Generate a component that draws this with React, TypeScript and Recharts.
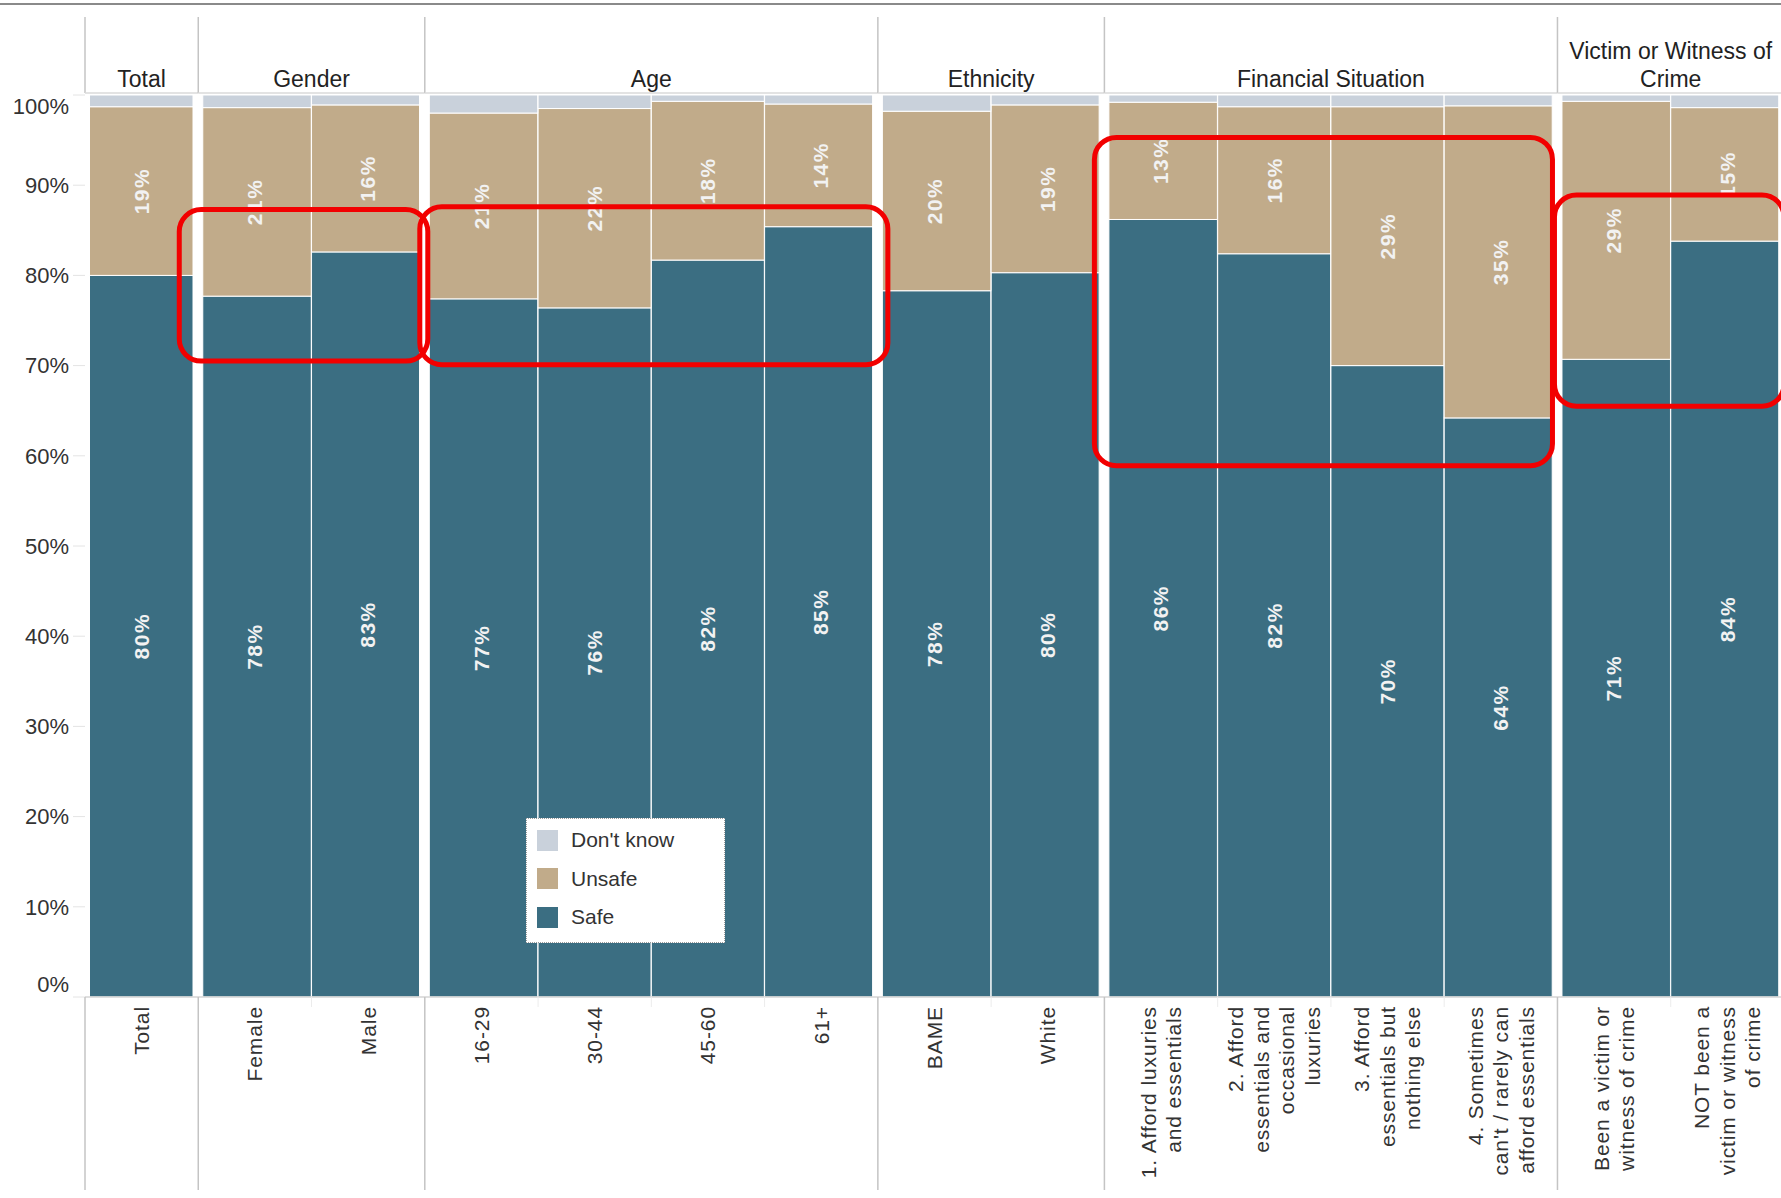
import React from "react";
import { Bar, BarChart, LabelList, Legend, ReferenceArea, XAxis, YAxis } from "recharts";

// categories along the bottom, with the group each one belongs to (header row)
const categories = [
  "Total",
  "Female",
  "Male",
  "16-29",
  "30-44",
  "45-60",
  "61+",
  "BAME",
  "White",
  "1. Afford luxuries\nand essentials",
  "2. Afford\nessentials and\noccasional\nluxuries",
  "3. Afford\nessentials but\nnothing else",
  "4. Sometimes\ncan't / rarely can\nafford essentials",
  "Been a victim or\nwitness of crime",
  "NOT been a\nvictim or witness\nof crime",
];
const categoryGroup = [
  "Total",
  "Gender",
  "Gender",
  "Age",
  "Age",
  "Age",
  "Age",
  "Ethnicity",
  "Ethnicity",
  "Financial Situation",
  "Financial Situation",
  "Financial Situation",
  "Financial Situation",
  "Victim or Witness of\nCrime",
  "Victim or Witness of\nCrime",
];

// shares in %
const safe = [80.0, 77.7, 82.6, 77.4, 76.4, 81.7, 85.4, 78.3, 80.3, 86.2, 82.4, 70.0, 64.2, 70.7, 83.8];
const unsafe = [18.7, 20.9, 16.3, 20.6, 22.1, 17.6, 13.6, 19.9, 18.6, 13.0, 16.3, 28.7, 34.6, 28.6, 14.8];
const dontKnow = [1.3, 1.4, 1.1, 2.0, 1.5, 0.7, 1.0, 1.8, 1.1, 0.8, 1.3, 1.3, 1.2, 0.7, 1.4];
const yTicks = [0, 10, 20, 30, 40, 50, 60, 70, 80, 90, 100];

const legendNames = ["Don't know", "Unsafe", "Safe"];

// red highlight boxes drawn over the chart
const highlightFrom = ["Female", "16-29", categories[9], categories[13]];
const highlightTo = ["Male", "61+", categories[12], categories[14]];
const highlightTop = [87.3, 87.6, 95.3, 88.9];
const highlightBottom = [70.5, 70.1, 58.9, 65.5];
const boxPad = [
  [19, 3],
  [5, 10],
  [10, -5],
  [3, 0],
];

const W = 1781;
const H = 1198;
const CHART_W = 1795;
const MARGIN = { top: 5, right: 11, left: 0, bottom: 11 };
const Y_W = 85;
const TOP_H = 90;
const BOTTOM_H = 190;
const PLOT_TOP = MARGIN.top + TOP_H;
const PLOT_BOTTOM = H - MARGIN.bottom - BOTTOM_H;
const BAND = (CHART_W - MARGIN.left - MARGIN.right - Y_W) / categories.length;

const SAFE = "#3b6e82";
const UNSAFE = "#c1ab8a";
const DK = "#c9d1db";
const legendColors = [DK, UNSAFE, SAFE];
const FONT = '"Liberation Sans", Arial, sans-serif';

const data = categories.map((name, i) => ({
  name,
  safe: safe[i],
  unsafe: unsafe[i],
  dontKnow: dontKnow[i],
}));

const isGroupStart = (i: number) => i === 0 || categoryGroup[i - 1] !== categoryGroup[i];
const isGroupEnd = (i: number) => i === categoryGroup.length - 1 || categoryGroup[i + 1] !== categoryGroup[i];
const groupSpan = (i: number) => {
  let n = 0;
  while (i + n < categoryGroup.length && categoryGroup[i + n] === categoryGroup[i]) n++;
  return n;
};

function SegmentShape(props: any) {
  const { x, y, width, height, fill, index } = props;
  if (!height || height <= 0) return null;
  const l = isGroupStart(index) ? 4.5 : 0;
  const r = isGroupEnd(index) ? 5 : 0;
  return <rect x={x + l} y={y} width={width - l - r} height={height} fill={fill} stroke="#fff" strokeWidth={1} />;
}

function SegmentLabel(props: any) {
  const vb = props.viewBox ?? props;
  const { x, y, width, height } = vb;
  if (props.value == null || x == null) return null;
  const cx = x + width / 2;
  const cy = y + height / 2;
  return (
    <text
      transform={`translate(${cx},${cy}) rotate(-90)`}
      textAnchor="middle"
      dy="0.35em"
      fill="#f2f2f2"
      fontSize={21}
      fontWeight="bold"
      fontFamily={FONT}
      letterSpacing={1.5}
    >
      {Math.round(props.value)}%
    </text>
  );
}

function YTick({ x, y, payload }: any) {
  const v = payload.value;
  const dy = v === 100 ? 11 : v === 0 ? -13 : 0;
  return (
    <text x={x} y={y + dy} dy="0.35em" textAnchor="end" fontSize={22} fill="#333" fontFamily={FONT}>
      {v}%
    </text>
  );
}

function HeaderTick({ x, index }: any) {
  if (!isGroupStart(index)) return <g />;
  const n = groupSpan(index);
  const left = x - BAND / 2;
  const right = left + n * BAND;
  const cx = (left + right) / 2;
  const lines = categoryGroup[index].split("\n");
  return (
    <g>
      <line x1={left} x2={left} y1={17} y2={PLOT_TOP - 2} stroke="#c4c4c4" strokeWidth={1.5} />
      {index + n === categoryGroup.length && (
        <line x1={right} x2={right} y1={17} y2={PLOT_TOP - 2} stroke="#c4c4c4" strokeWidth={1.5} />
      )}
      <line x1={left} x2={right} y1={PLOT_TOP - 2} y2={PLOT_TOP - 2} stroke="#dadada" strokeWidth={1.5} />
      {lines.map((t, k) => (
        <text
          key={k}
          x={cx}
          y={PLOT_TOP - 8 - (lines.length - 1 - k) * 28}
          textAnchor="middle"
          fontSize={23}
          fill="#222"
          fontFamily={FONT}
        >
          {t}
        </text>
      ))}
    </g>
  );
}

function CategoryTick({ x, index }: any) {
  const lines = categories[index].split("\n");
  const left = x - BAND / 2;
  return (
    <g>
      {isGroupStart(index) ? (
        <line x1={left} x2={left} y1={PLOT_BOTTOM} y2={1190} stroke="#c4c4c4" strokeWidth={1.5} />
      ) : (
        <line x1={left} x2={left} y1={PLOT_BOTTOM} y2={PLOT_BOTTOM + 10} stroke="#ececec" />
      )}
      <text
        transform={`translate(${x},${PLOT_BOTTOM + 9}) rotate(-90)`}
        textAnchor="end"
        fontSize={21}
        fill="#333"
        letterSpacing={0.9}
        fontFamily={FONT}
      >
        {lines.map((t, k) => (
          <tspan key={k} x={0} y={(k - (lines.length - 1) / 2) * 25.5} dy="0.35em">
            {t}
          </tspan>
        ))}
      </text>
    </g>
  );
}

function LegendBox() {
  return (
    <div
      style={{
        width: 197,
        height: 123,
        border: "1px dotted #9a9a9a",
        background: "#fff",
        position: "relative",
        fontFamily: FONT,
      }}
    >
      {legendNames.map((name, i) => (
        <div
          key={name}
          style={{ position: "absolute", left: 10, top: 10 + i * 38.5, height: 22, display: "flex", alignItems: "center" }}
        >
          <span style={{ width: 21, height: 21, background: legendColors[i], display: "inline-block" }} />
          <span style={{ marginLeft: 13, fontSize: 21, color: "#333", lineHeight: "22px" }}>{name}</span>
        </div>
      ))}
    </div>
  );
}

export default function App() {
  return (
    <div style={{ position: "absolute", left: 0, top: 0, width: W, height: H, overflow: "hidden", background: "#fff" }}>
      <div style={{ position: "absolute", left: 0, top: 3, width: W, height: 2, background: "#8a8a8a" }} />
      <BarChart width={CHART_W} height={H} data={data} margin={MARGIN} barCategoryGap={0} barGap={0}>
        <XAxis
          xAxisId="top"
          orientation="top"
          dataKey="name"
          height={TOP_H}
          interval={0}
          axisLine={false}
          tickLine={false}
          tickSize={0}
          tickMargin={0}
          tick={<HeaderTick />}
        />
        <XAxis
          xAxisId="bottom"
          dataKey="name"
          height={BOTTOM_H}
          interval={0}
          axisLine={{ stroke: "#d4d4d4", strokeWidth: 1.5 }}
          tickLine={false}
          tickSize={0}
          tickMargin={0}
          tick={<CategoryTick />}
        />
        <YAxis
          type="number"
          domain={[0, 100]}
          ticks={yTicks}
          width={Y_W}
          axisLine={false}
          tickLine={{ stroke: "#e4e4e4" }}
          tickSize={12}
          tickMargin={4}
          tick={<YTick />}
        />
        <Bar dataKey="safe" name="Safe" stackId="a" xAxisId="bottom" fill={SAFE} shape={SegmentShape} isAnimationActive={false}>
          <LabelList dataKey="safe" content={SegmentLabel} />
        </Bar>
        <Bar dataKey="unsafe" name="Unsafe" stackId="a" xAxisId="bottom" fill={UNSAFE} shape={SegmentShape} isAnimationActive={false}>
          <LabelList dataKey="unsafe" content={SegmentLabel} />
        </Bar>
        <Bar dataKey="dontKnow" name="Don't know" stackId="a" xAxisId="bottom" fill={DK} shape={SegmentShape} isAnimationActive={false} />
        <Legend
          layout="vertical"
          align="center"
          verticalAlign="middle"
          wrapperStyle={{ position: "absolute", left: 526, top: 818, width: 199, height: 125 }}
          content={() => <LegendBox />}
        />
        {highlightFrom.map((from, i) => (
          <ReferenceArea
            key={i}
            xAxisId="bottom"
            x1={from}
            x2={highlightTo[i]}
            y1={highlightBottom[i]}
            y2={highlightTop[i]}
            ifOverflow="visible"
            zIndex={3000}
            shape={(p: any) => (
              <rect
                x={p.x - boxPad[i][0]}
                y={p.y}
                width={p.width + boxPad[i][0] + boxPad[i][1]}
                height={p.height}
                rx={22}
                fill="none"
                stroke="#f20000"
                strokeWidth={5}
              />
            )}
          />
        ))}
      </BarChart>
    </div>
  );
}
